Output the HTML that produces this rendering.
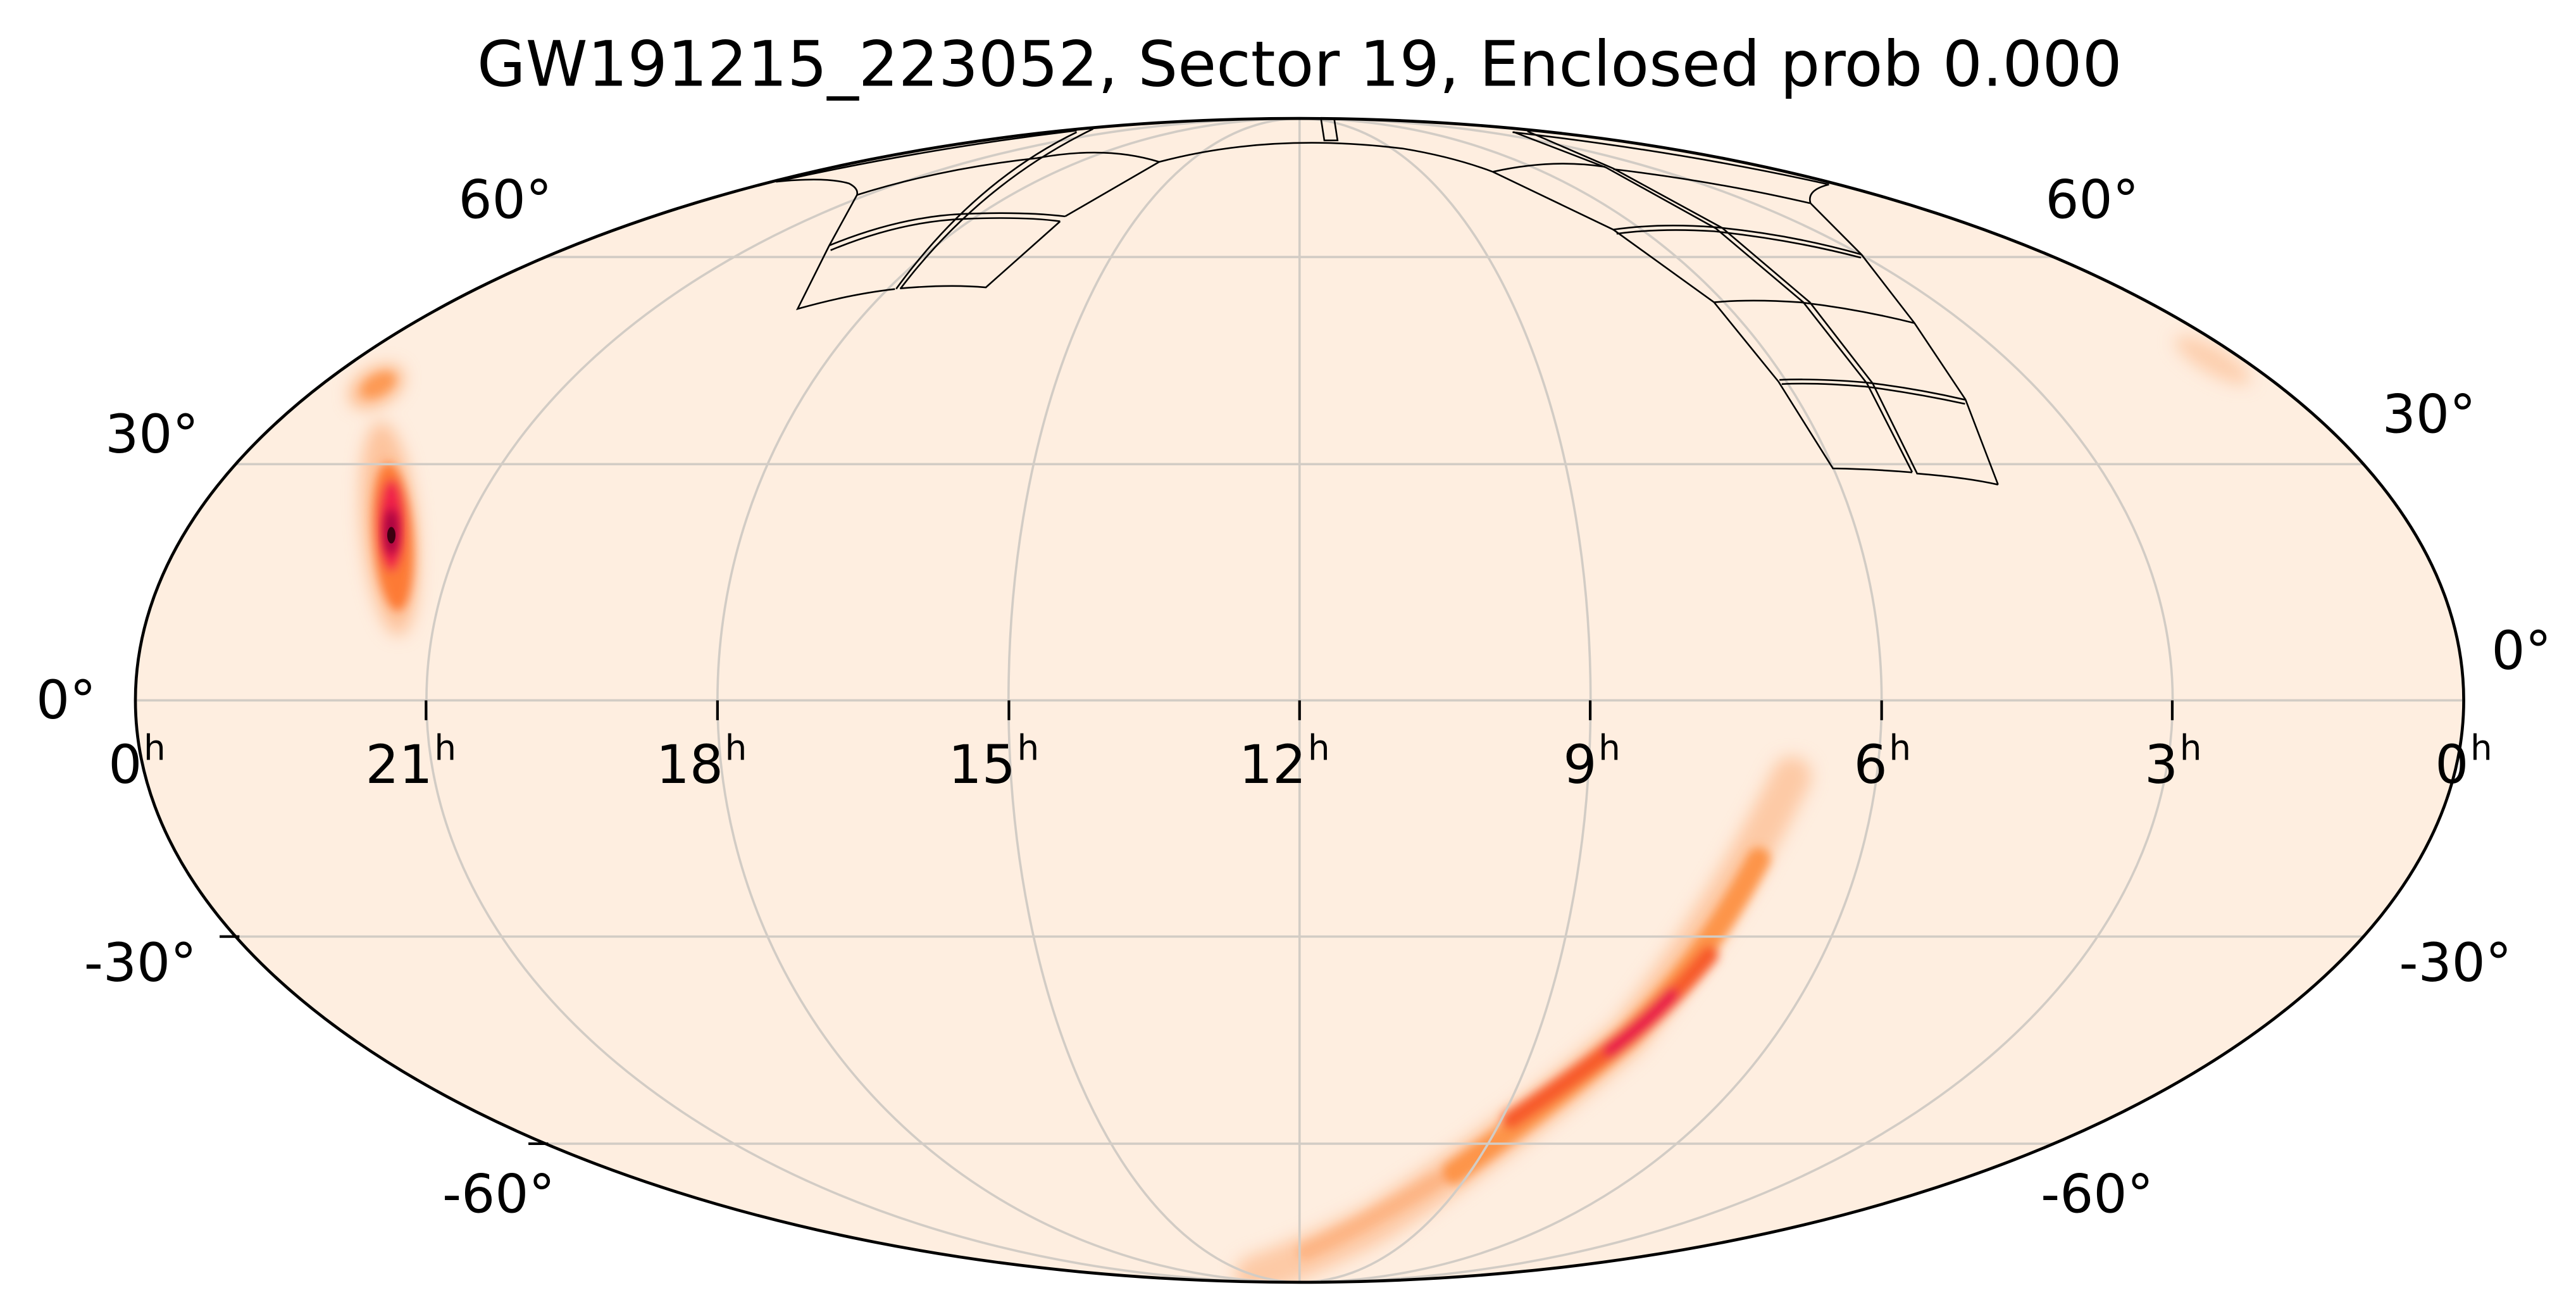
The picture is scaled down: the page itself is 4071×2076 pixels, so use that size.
<!DOCTYPE html>
<html><head><meta charset="utf-8"><style>
html,body{margin:0;padding:0;background:#fff;}
svg{display:block;}
text{font-family:"DejaVu Sans","Liberation Sans",sans-serif;fill:#000;}
</style></head><body>
<svg width="4071" height="2076" viewBox="0 0 1560 795.5" xmlns="http://www.w3.org/2000/svg">
<defs>
<clipPath id="ell"><ellipse cx="787" cy="424" rx="705" ry="352.3"/></clipPath>
<filter id="b1" x="-50%" y="-50%" width="200%" height="200%"><feGaussianBlur stdDeviation="5"/></filter>
<filter id="b2" x="-50%" y="-50%" width="200%" height="200%"><feGaussianBlur stdDeviation="3"/></filter>
</defs>
<text x="787" y="52" font-size="38" text-anchor="middle">GW191215_223052, Sector 19, Enclosed prob 0.000</text>
<ellipse cx="787" cy="424" rx="705" ry="352.3" fill="#feeee0"/>
<g clip-path="url(#ell)">
 <g filter="url(#b1)">
  <ellipse cx="228" cy="234" rx="18" ry="11" fill="#fdb98a" transform="rotate(-30 228 234)"/>
  <ellipse cx="236" cy="320" rx="17" ry="65" fill="#fdc39c" transform="rotate(-5 236 320)"/>
  <ellipse cx="1340" cy="218" rx="26" ry="8" fill="#fdcfae" transform="rotate(30 1340 218)"/>
  <path d="M1085,470 Q1040,560 985,628 Q900,700 830,742 Q790,762 760,772" stroke="#fdc9a5" stroke-width="24" fill="none" stroke-linecap="round"/>
 </g>
 <g filter="url(#b2)">
  <ellipse cx="229" cy="233" rx="11" ry="6" fill="#fd9a55" transform="rotate(-30 229 233)"/>
  <ellipse cx="238" cy="325" rx="12" ry="45" fill="#fd7a35" transform="rotate(-4 238 325)"/>
  <ellipse cx="237" cy="318" rx="8" ry="28" fill="#f0204a"/>
  <path d="M1065,520 Q1030,585 985,628 Q930,675 880,710" stroke="#fd9448" stroke-width="14" fill="none" stroke-linecap="round"/>
  <path d="M1035,578 Q1008,610 985,628 Q950,655 915,678" stroke="#f75a2c" stroke-width="11" fill="none" stroke-linecap="round"/>
  <path d="M1012,602 Q995,620 975,636" stroke="#e8104c" stroke-width="8" fill="none" stroke-linecap="round"/>
  <path d="M870,715 Q820,745 790,758" stroke="#fdb585" stroke-width="10" fill="none" stroke-linecap="round"/>
 </g>
 <ellipse cx="237" cy="322" rx="4" ry="14" fill="#a00040" filter="url(#b2)"/>
 <ellipse cx="237" cy="324" rx="2.5" ry="5" fill="#3a0010"/>
 <g stroke="#d2ccc5" stroke-width="1.4" fill="none">
  <line x1="80" y1="424" x2="1494" y2="424"/>
  <line x1="80" y1="281" x2="1494" y2="281"/>
  <line x1="80" y1="567" x2="1494" y2="567"/>
  <line x1="80" y1="155.6" x2="1494" y2="155.6"/>
  <line x1="80" y1="692.4" x2="1494" y2="692.4"/>
  <line x1="787" y1="70" x2="787" y2="780"/>
  <ellipse cx="787" cy="424" rx="176.25" ry="352.3"/>
  <ellipse cx="787" cy="424" rx="352.5" ry="352.3"/>
  <ellipse cx="787" cy="424" rx="528.75" ry="352.3"/>
 </g>
 <g stroke="#000" stroke-width="1" fill="none">
  <path d="M470,110 Q500,107 514,111 Q520,114 519,118 L502,149 L483,187 Q515,178 542,175"/>
  <path d="M545,174.6 Q575,172 597,174 L642,134"/>
  <path d="M519,118 Q570,102 628,95.7 Q670,88 702,98 L645,131"/>
  <path d="M502,148.7 Q545,131 584,129.5 Q620,128 645,131"/>
  <path d="M503,151.5 Q545,134 584,132.5 Q620,131 642,134"/>
  <path d="M542.7,174.9 Q590,110 652,80"/>
  <path d="M545.4,174.6 Q594,111 662,78"/>
  <path d="M470,110 Q560,90 652,79"/>
  <path d="M702,98 Q770,80 850,90 Q880,95 904,104"/>
  <path d="M800,72 L802,85 L810,85 L808,72"/>
  <path d="M904,104 Q940,96 972,101"/>
  <path d="M904,104 L977,139 L1038,183 L1077,231 L1110,283.6 Q1135,284 1158,286"/>
  <path d="M916.6,79.9 L972.6,101.4 L1039,138.2 L1092,182.9 L1130.6,232.1 L1158,285.8"/>
  <path d="M925,79.5 L977,102 L1043,138 L1096,183 L1134,232 L1161,286.7 Q1190,289 1210,293.4"/>
  <path d="M1107.6,111.7 Q1094,115 1096.4,123 L1127.3,154.1 L1159.4,195.6 L1190.3,241.9 L1210,293.4"/>
  <path d="M977,102.4 Q1040,110 1096,123"/>
  <path d="M916,80 Q1020,92 1107.6,111.7"/>
  <path d="M977,139 Q1005,135 1038,137.5 Q1085,142 1127,154"/>
  <path d="M979,141.5 Q1005,138 1038,140 Q1085,145 1127,156"/>
  <path d="M1038,183 Q1060,181 1090,183 Q1125,187 1159.4,195.6"/>
  <path d="M1077.6,230 Q1100,229 1129.5,231.5 Q1160,235 1190,242"/>
  <path d="M1079,232.5 Q1100,231.5 1129.5,234 Q1160,238 1190,244.5"/>
 </g>
</g>
<ellipse cx="787" cy="424" rx="705" ry="352.3" fill="none" stroke="#000" stroke-width="1.8"/>
<g stroke="#000" stroke-width="1.6">
 <line x1="258" y1="424" x2="258" y2="436"/><line x1="434.5" y1="424" x2="434.5" y2="436"/>
 <line x1="611" y1="424" x2="611" y2="436"/><line x1="787" y1="424" x2="787" y2="436"/>
 <line x1="963" y1="424" x2="963" y2="436"/><line x1="1139.5" y1="424" x2="1139.5" y2="436"/>
 <line x1="1315.5" y1="424" x2="1315.5" y2="436"/>
 <line x1="133" y1="567" x2="145" y2="567"/>
 <line x1="320" y1="692.4" x2="332" y2="692.4"/>
</g>
<g font-size="32">
 <text x="86" y="474" text-anchor="end">0</text><text x="87" y="460" font-size="21">h</text>
 <text x="262" y="474" text-anchor="end">21</text><text x="263" y="460" font-size="21">h</text>
 <text x="438" y="474" text-anchor="end">18</text><text x="439" y="460" font-size="21">h</text>
 <text x="615" y="474" text-anchor="end">15</text><text x="616" y="460" font-size="21">h</text>
 <text x="791" y="474" text-anchor="end">12</text><text x="792" y="460" font-size="21">h</text>
 <text x="967" y="474" text-anchor="end">9</text><text x="968" y="460" font-size="21">h</text>
 <text x="1143" y="474" text-anchor="end">6</text><text x="1144" y="460" font-size="21">h</text>
 <text x="1319" y="474" text-anchor="end">3</text><text x="1320" y="460" font-size="21">h</text>
 <text x="1495" y="474" text-anchor="end">0</text><text x="1496" y="460" font-size="21">h</text>
 <text x="306" y="132" text-anchor="middle">60°</text>
 <text x="92" y="274" text-anchor="middle">30°</text>
 <text x="40" y="435" text-anchor="middle">0°</text>
 <text x="85" y="594" text-anchor="middle">-30°</text>
 <text x="302" y="734" text-anchor="middle">-60°</text>
 <text x="1267" y="132" text-anchor="middle">60°</text>
 <text x="1471" y="262" text-anchor="middle">30°</text>
 <text x="1527" y="405" text-anchor="middle">0°</text>
 <text x="1487" y="594" text-anchor="middle">-30°</text>
 <text x="1270" y="734" text-anchor="middle">-60°</text>
</g>
</svg>
</body></html>
